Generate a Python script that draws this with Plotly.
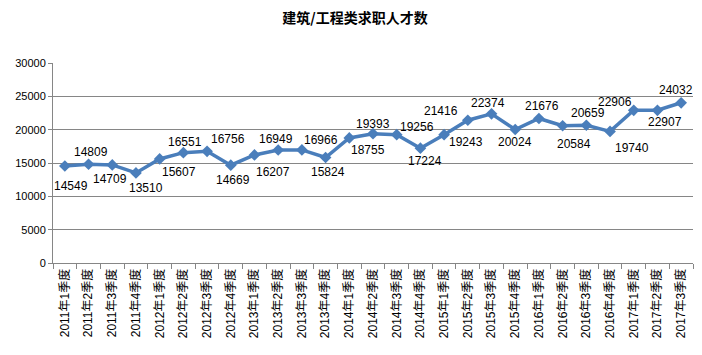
import plotly.graph_objects as go

categories = [
    "2011年1季度", "2011年2季度", "2011年3季度", "2011年4季度",
    "2012年1季度", "2012年2季度", "2012年3季度", "2012年4季度",
    "2013年1季度", "2013年2季度", "2013年3季度", "2013年4季度",
    "2014年1季度", "2014年2季度", "2014年3季度", "2014年4季度",
    "2015年1季度", "2015年2季度", "2015年3季度", "2015年4季度",
    "2016年1季度", "2016年2季度", "2016年3季度", "2016年4季度",
    "2017年1季度", "2017年2季度", "2017年3季度",
]
values = [
    14549, 14809, 14709, 13510, 15607, 16551, 16756, 14669, 16207,
    16949, 16966, 15824, 18755, 19393, 19256, 17224, 19243, 21416,
    22374, 20024, 21676, 20584, 20659, 19740, 22906, 22907, 24032,
]
# data-label offsets (pixels, right / down) as placed in the reference
label_dx = [6, 2, -2, 10, 19, 2, 21, 2, 19, -2, 19, 2, 19, 0, 20, 5, 22, -27, -4, 0, 3, 11, 2, 22, -19, 8, -5]
label_dy = [20, -12, 14, 15, 13, -11, -12, 15, 17, -11, -10, 14, 12, -10, -8, 13, 7, -9, -11, 12, -12, 18, -12, 17, -8, 12, -13]
y_ticks = [0, 5000, 10000, 15000, 20000, 25000, 30000]

# page body has an 8px default margin; compensate so the plot lands where the reference has it
OFF = 8
W, H = 702, 355

fig = go.Figure()
fig.add_trace(go.Scatter(
    x=categories, y=values,
    mode="lines+markers",
    line=dict(color="#4A7EBB", width=3.5),
    marker=dict(symbol="diamond", size=9, color="#4A7EBB"),
    cliponaxis=False,
    showlegend=False,
    hoverinfo="x+y",
))

for c, v, dx, dy in zip(categories, values, label_dx, label_dy):
    fig.add_annotation(
        x=c, y=v, text=str(v), showarrow=False,
        xshift=dx, yshift=-dy,
        font=dict(family="Liberation Sans, Arial", size=12, color="#000000"),
    )

fig.update_layout(
    width=W, height=H,
    margin=dict(l=53 - OFF, r=W - (693 - OFF), t=63 - OFF, b=H - (263 - OFF)),
    paper_bgcolor="white", plot_bgcolor="white",
    title=dict(
        text="<b>建筑/工程类求职人才数</b>",
        x=(355 - OFF) / W, xanchor="center", y=1 - (18 - OFF) / H, yanchor="middle",
        font=dict(family="Noto Sans CJK SC", size=14, color="#000000"),
    ),
    xaxis=dict(
        type="category",
        tickangle=-90,
        tickfont=dict(family="Liberation Sans, Noto Sans CJK SC", size=12, color="#000000"),
        showline=True, linecolor="#868686", linewidth=1,
        ticks="outside", tickson="boundaries", ticklen=5, tickcolor="#868686",
        showgrid=False,
        range=[-0.5, 26.5],
        automargin=False,
    ),
    yaxis=dict(
        range=[0, 30000],
        tickvals=y_ticks,
        tickformat="d",
        tickfont=dict(family="Liberation Sans, Arial", size=11, color="#000000"),
        showline=True, linecolor="#868686", linewidth=1,
        ticks="outside", ticklen=4, tickcolor="#868686",
        showgrid=True, gridcolor="#868686", gridwidth=1,
        zeroline=False,
        automargin=False,
    ),
)

fig.write_html("out.html")
